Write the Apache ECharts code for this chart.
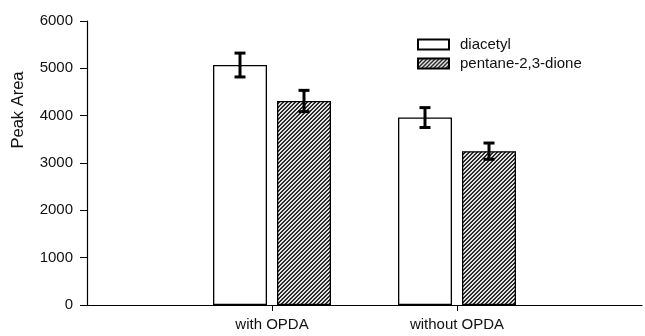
<!DOCTYPE html>
<html>
<head>
<meta charset="utf-8">
<script src="https://cdn.jsdelivr.net/npm/echarts@6/dist/echarts.min.js"></script>
<style>
html,body{margin:0;padding:0;background:#fff;}
#c{width:645px;height:336px;}
</style>
</head>
<body>
<div id="c"></div>
<script>
// ---- data ----
const categories = ['', 'with OPDA', 'without OPDA', ''];
const seriesNames = ['diacetyl', 'pentane-2,3-dione'];
const diacetyl = ['-', 5070, 3960, '-'];
const pentanedione = ['-', 4310, 3250, '-'];
const diacetylErr = ['-', 252, 210, '-'];
const pentanedioneErr = ['-', 225, 172, '-'];
const yTicks = [0, 1000, 2000, 3000, 4000, 5000, 6000];

// hatch pattern
function makeHatch() {
  const n = 4;
  const c = document.createElement('canvas');
  c.width = n; c.height = n;
  const ctx = c.getContext('2d');
  ctx.fillStyle = '#e4e4e4';
  ctx.fillRect(0, 0, n, n);
  ctx.fillStyle = '#2a2a2a';
  for (let x = 0; x < n; x++) {
    for (let y = 0; y < n; y++) {
      const s = (x + y) % n;
      if (s === 0 || s === 1) ctx.fillRect(x, y, 1, 1);
    }
  }
  return c;
}
const hatch = makeHatch();

const chart = echarts.init(document.getElementById('c'), null, {renderer: 'canvas'});
const BAR_W = 54;
const BAR_OFF = 32; // px from category center to bar center

function errSeries(vals, errs, dir) {
  return {
    type: 'custom',
    silent: true,
    z: 10,
    data: vals.map((v, i) => [i, v, errs[i]]).filter(d => d[1] !== '-'),
    renderItem: function (params, api) {
      const x = api.value(0), v = api.value(1), e = api.value(2);
      const pTop = api.coord([x, v + e]);
      const pBot = api.coord([x, v - e]);
      const cx = pTop[0] + dir * BAR_OFF;
      const cap = 5.5;
      const st = {stroke: '#000', lineWidth: 3};
      return {
        type: 'group',
        children: [
          {type: 'line', shape: {x1: cx, y1: pTop[1], x2: cx, y2: pBot[1]}, style: st},
          {type: 'line', shape: {x1: cx - cap, y1: pTop[1], x2: cx + cap, y2: pTop[1]}, style: st},
          {type: 'line', shape: {x1: cx - cap, y1: pBot[1], x2: cx + cap, y2: pBot[1]}, style: st}
        ]
      };
    }
  };
}

const txt = '#111';
chart.setOption({
  animation: false,
  backgroundColor: '#fff',
  grid: {left: 87, right: 0, top: 21, bottom: 31, containLabel: false},
  legend: {
    orient: 'vertical',
    left: 412,
    top: 32,
    itemWidth: 31,
    itemHeight: 10,
    itemGap: 4,
    icon: 'rect',
    textStyle: {fontFamily: 'Liberation Sans', fontSize: 15, color: txt, lineHeight: 15, padding: [0, 0, 0, 6]},
    data: seriesNames
  },
  xAxis: {
    type: 'category',
    data: categories,
    boundaryGap: false,
    axisLine: {lineStyle: {color: '#000', width: 1.2}},
    axisTick: {
      length: 6,
      lineStyle: {color: '#000'},
      interval: function (i, v) { return v !== ''; }
    },
    axisLabel: {
      fontFamily: 'Liberation Sans', fontSize: 15, color: txt, margin: 12,
      interval: 0
    },
    splitLine: {show: false}
  },
  yAxis: {
    type: 'value',
    min: yTicks[0],
    max: yTicks[yTicks.length - 1],
    interval: 1000,
    axisLine: {show: true, lineStyle: {color: '#000', width: 1.2}},
    axisTick: {show: true, length: 7, lineStyle: {color: '#000'}},
    axisLabel: {fontFamily: 'Liberation Sans', fontSize: 15, color: txt, margin: 14,
      formatter: function (v) { return String(v); }},
    splitLine: {show: false}
  },
  graphic: [{
    type: 'text',
    x: 18,
    y: 110,
    rotation: Math.PI / 2,
    style: {
      text: 'Peak Area',
      fontFamily: 'Liberation Sans',
      fontSize: 16.5,
      fill: txt,
      align: 'center',
      verticalAlign: 'middle'
    }
  }],
  series: [
    {
      name: seriesNames[0],
      type: 'bar',
      data: diacetyl,
      barWidth: BAR_W,
      barGap: '18.5%',
      itemStyle: {color: '#fff', borderColor: '#000', borderWidth: 1.3}
    },
    {
      name: seriesNames[1],
      type: 'bar',
      data: pentanedione,
      barWidth: BAR_W,
      barGap: '18.5%',
      itemStyle: {color: {image: hatch, repeat: 'repeat'}, borderColor: '#000', borderWidth: 1.3}
    },
    errSeries(diacetyl, diacetylErr, -1),
    errSeries(pentanedione, pentanedioneErr, 1)
  ]
});
</script>
</body>
</html>
